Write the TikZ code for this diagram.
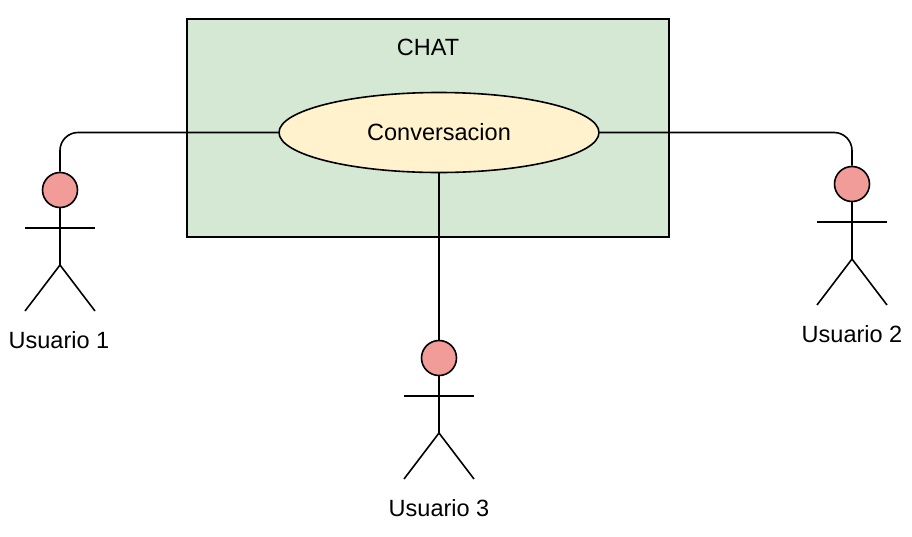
\documentclass[tikz,border=0pt]{standalone}
\usepackage{fontspec}
\setmainfont{Liberation Sans}
\usepackage{xcolor}
\usetikzlibrary{positioning,shapes.geometric}
\definecolor{chatgreen}{HTML}{D5E8D4}
\definecolor{convyellow}{HTML}{FFF2CC}
\definecolor{headred}{HTML}{F19C99}

\begin{document}
\begin{tikzpicture}[
  x=1pt, y=-1pt,
  font=\fontsize{23.5}{28}\selectfont,
  line width=1.6pt,
  head/.style={draw, circle, fill=headred, minimum size=35pt, inner sep=0pt},
  lbl/.style={inner sep=0pt},
  conn/.style={draw, rounded corners=18pt}
]
  \useasboundingbox (0,0) rectangle (912,536);
  \node[draw, fill=chatgreen, minimum width=482pt, minimum height=218pt, inner sep=0pt] (chat) at (428,128) {};
  \node[lbl] (chatlbl) at (428,47) {CHAT};
  \node[draw, ellipse, fill=convyellow, minimum width=320pt, minimum height=80pt, inner sep=0pt] (conv) at (439,132.5) {Conversacion};

  % usuario 1
  \node[head] (head1) at (60,190) {};
  \coordinate (neck1) at (60,265);
  \coordinate (armL1) at (25,228);
  \coordinate (armR1) at (95,228);
  \coordinate (footL1) at (25,311);
  \coordinate (footR1) at (95,311);
  \node[lbl] (user1) at (59,340) {Usuario 1};
  \draw (head1) -- (neck1);
  \draw (armL1) -- (armR1);
  \draw (footL1) -- (neck1) -- (footR1);

  % usuario 2
  \node[head] (head2) at (852,184) {};
  \coordinate (neck2) at (852,259);
  \coordinate (armL2) at (817,222);
  \coordinate (armR2) at (887,222);
  \coordinate (footL2) at (817,305);
  \coordinate (footR2) at (887,305);
  \node[lbl] (user2) at (852,334) {Usuario 2};
  \draw (head2) -- (neck2);
  \draw (armL2) -- (armR2);
  \draw (footL2) -- (neck2) -- (footR2);

  % usuario 3
  \node[head] (head3) at (439,358) {};
  \coordinate (neck3) at (439,433);
  \coordinate (armL3) at (404,396);
  \coordinate (armR3) at (474,396);
  \coordinate (footL3) at (404,479);
  \coordinate (footR3) at (474,479);
  \node[lbl] (user3) at (439,508) {Usuario 3};
  \draw (head3) -- (neck3);
  \draw (armL3) -- (armR3);
  \draw (footL3) -- (neck3) -- (footR3);

  \draw[conn] (head1) |- (conv);
  \draw[conn] (head2) |- (conv);
  \draw (head3) -- (conv);
\end{tikzpicture}
\end{document}
